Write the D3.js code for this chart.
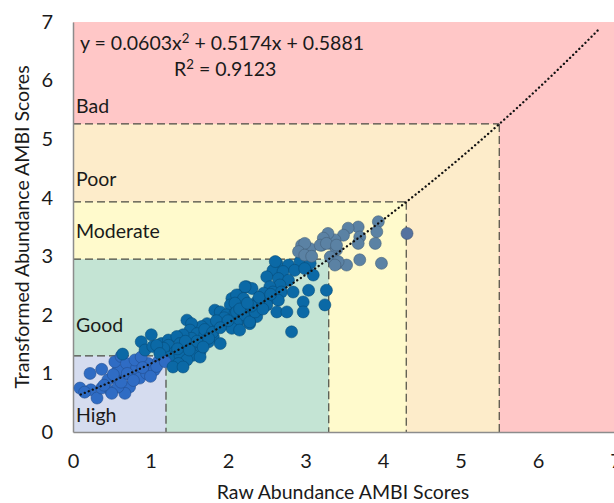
<!DOCTYPE html>
<html>
<head>
<meta charset="utf-8">
<script src="https://cdn.jsdelivr.net/npm/d3@7"></script>
<style>
  html, body { margin: 0; padding: 0; background: #fff; }
  svg { display: block; }
  text { font-family: Lato, "Liberation Sans", sans-serif; fill: #1a1a1a; }
</style>
</head>
<body>
<svg id="chart" width="614" height="503"></svg>
<script>
// Station AMBI scores: raw abundance vs transformed abundance
const rawScores = [
  0.09,0.22,0.37,0.23,0.31,0.37,0.49,0.45,0.56,0.58,0.54,0.62,0.69,0.75,0.73,0.67,0.82,0.86,0.95,0.97,
  1.05,1.10,1.16,0.80,0.88,0.58,0.50,0.15,0.40,0.62,0.70,0.90,1.00,0.78,1.08,0.52,
  1.01,0.88,0.93,1.03,1.14,1.23,1.27,0.64,
  2.24,2.15,2.31,2.05,2.13,2.03,2.24,2.37,1.83,1.90,1.98,2.09,2.18,2.28,2.37,2.28,2.13,2.07,1.96,1.87,
  1.79,1.73,1.66,1.47,1.53,1.51,1.60,1.70,1.81,1.90,1.75,1.64,1.53,1.42,1.34,1.38,1.47,1.55,1.64,1.55,
  1.64,1.23,1.17,1.32,1.25,1.38,1.47,1.36,1.08,1.12,1.19,1.29,1.42,
  2.95,3.06,3.21,3.32,3.40,3.36,3.42,
  2.63,2.78,2.93,3.06,2.58,2.71,2.86,2.99,3.10,2.50,2.65,2.78,2.67,2.54,2.46,2.58,2.69,2.84,3.04,3.27,
  2.22,2.54,2.65,2.50,2.39,2.97,3.25,2.63,2.76,2.97,2.82,2.11,2.20,2.09,2.11,2.20,2.28,2.11,2.05,2.15,
  2.35,2.61,
  4.31,3.94,3.92,3.90,3.98,3.70,3.53,3.68,3.55,3.70,3.68,3.49,3.38,3.29,3.23,3.19,3.27,3.40,2.99,2.91,
  2.99,3.32,3.42,3.38,3.08,
  2.40,2.45,2.55,2.30,1.95,1.85,1.70,1.60,1.80,2.00,1.45,1.75,1.90,2.15,2.25,1.35,1.50,1.68
];
const transformedScores = [
  0.75,1.00,1.07,0.72,0.58,0.75,0.69,0.89,0.92,1.06,1.20,1.29,1.17,0.97,0.77,0.66,1.09,0.92,1.00,1.17,
  1.06,1.20,1.23,1.23,1.28,0.77,0.66,0.68,0.80,0.85,1.00,1.10,0.95,0.88,1.12,0.98,
  1.66,1.54,1.40,1.46,1.51,1.57,1.40,1.33,
  2.48,2.34,2.45,2.28,2.25,2.17,2.14,2.22,2.08,2.05,2.00,2.03,1.97,2.03,1.97,1.85,1.88,1.80,1.85,1.80,
  1.74,1.85,1.80,1.91,1.85,1.74,1.68,1.66,1.63,1.51,1.54,1.51,1.60,1.66,1.63,1.51,1.46,1.43,1.37,1.31,
  1.28,1.48,1.43,1.37,1.28,1.31,1.23,1.17,1.48,1.34,1.20,1.11,1.11,
  3.19,3.13,3.19,3.22,3.11,2.94,2.88,
  2.88,2.85,2.91,2.88,2.76,2.74,2.76,2.79,2.68,2.65,2.62,2.59,2.51,2.48,2.37,2.39,2.39,2.39,2.42,2.42,
  2.48,2.28,2.25,2.17,2.20,2.22,2.17,2.05,2.05,2.05,1.71,2.34,2.28,2.20,2.05,2.00,1.88,1.86,1.77,1.74,
  2.05,2.91,
  3.39,3.59,3.42,3.22,2.88,2.94,2.85,3.50,3.48,3.33,3.22,3.36,3.28,3.39,3.31,3.19,3.22,3.19,3.22,3.08,
  3.02,2.99,2.91,2.85,3.00,
  2.30,2.10,2.35,2.15,1.95,1.90,1.75,1.55,1.70,1.90,1.55,1.60,1.78,2.10,2.20,1.42,1.40,1.45
];

// Status classes and their upper limits on each scale
const categories = ["High", "Good", "Moderate", "Poor", "Bad"];
const rawBreaks = [1.2, 3.3, 4.3, 5.5];
const transformedBreaks = [1.3, 2.95, 3.93, 5.26];
const bandColors = ["#d5dcef", "#c4e4d4", "#fffacc", "#fdecca", "#ffc7c7"];
const pointColors = ["#2f6cc4", "#0b69a6", "#5b82a4", "#55729f"];

// Quadratic fit: y = a x^2 + b x + c
const fitCoefficients = [0.0603, 0.5174, 0.5881];
const fitR2 = 0.9123;
const fitRange = [0.1, 6.8];

const xTicks = [0, 1, 2, 3, 4, 5, 6, 7];
const yTicks = [0, 1, 2, 3, 4, 5, 6, 7];

const svg = d3.select("#chart");
const plot = { left: 73, right: 615.5, top: 22, bottom: 432 };
const labelSize = 19.5;

const x = d3.scaleLinear().domain([0, 7]).range([plot.left, plot.right]);
const y = d3.scaleLinear().domain([0, 7]).range([plot.bottom, plot.top]);

// Nested status bands, largest first
const bands = svg.append("g");
bands.append("rect")
  .attr("x", x(0)).attr("y", y(7))
  .attr("width", x(7) - x(0)).attr("height", y(0) - y(7))
  .attr("fill", bandColors[4]);
for (let i = rawBreaks.length - 1; i >= 0; i--) {
  bands.append("rect")
    .attr("x", x(0)).attr("y", y(transformedBreaks[i]))
    .attr("width", x(rawBreaks[i]) - x(0))
    .attr("height", y(0) - y(transformedBreaks[i]))
    .attr("fill", bandColors[i]);
}

// Dashed class boundaries
const dash = svg.append("g")
  .attr("stroke", "#4a4a42").attr("stroke-width", 1.2)
  .attr("stroke-dasharray", "8,4").attr("fill", "none");
rawBreaks.forEach((rb, i) => {
  dash.append("line")
    .attr("x1", x(0)).attr("x2", x(rb))
    .attr("y1", y(transformedBreaks[i])).attr("y2", y(transformedBreaks[i]));
  dash.append("line")
    .attr("x1", x(rb)).attr("x2", x(rb))
    .attr("y1", y(transformedBreaks[i])).attr("y2", y(0));
});

// Class labels
const labelAt = { High: 0.29, Good: 1.83, Moderate: 3.43, Poor: 4.32, Bad: 5.56 };
svg.append("g").selectAll("text")
  .data(categories).join("text")
  .attr("x", x(0) + 3)
  .attr("y", d => y(labelAt[d]))
  .attr("dy", "0.35em")
  .attr("font-size", labelSize)
  .text(d => d);

// Axes
const xAxis = svg.append("g").attr("transform", `translate(0,${plot.bottom})`)
  .call(d3.axisBottom(x).tickValues(xTicks).tickSize(0).tickPadding(22).tickFormat(d3.format("d")));
const yAxis = svg.append("g").attr("transform", `translate(${plot.left},0)`)
  .call(d3.axisLeft(y).tickValues(yTicks).tickSize(0).tickPadding(20).tickFormat(d3.format("d")));
[xAxis, yAxis].forEach(ax => {
  ax.select(".domain").attr("stroke", "#8c8c8c").attr("stroke-width", 1.5);
  ax.selectAll("text").attr("font-size", 20).attr("fill", "#1a1a1a")
    .attr("font-family", "Lato, sans-serif");
});

// Points, coloured by the worse of the two classes
function classOf(v, breaks) {
  let k = 0;
  while (k < breaks.length && v > breaks[k]) k++;
  return k;
}
const samples = rawScores.map((r, i) => ({ raw: r, t: transformedScores[i] }));
samples.forEach(s => {
  s.cls = Math.min(Math.max(classOf(s.raw, rawBreaks), classOf(s.t, transformedBreaks)), pointColors.length - 1);
});
svg.append("g").selectAll("circle")
  .data(samples).join("circle")
  .attr("cx", d => x(d.raw))
  .attr("cy", d => y(d.t))
  .attr("r", 6)
  .attr("fill", d => pointColors[d.cls])
  .attr("stroke", d => d3.color(pointColors[d.cls]).darker(0.9))
  .attr("stroke-opacity", 0.7)
  .attr("stroke-width", 0.8);

// Fitted curve (dotted)
const [ca, cb, cc] = fitCoefficients;
const fitX = d3.range(fitRange[0], fitRange[1] + 1e-9, 0.05);
svg.append("path")
  .datum(fitX)
  .attr("fill", "none")
  .attr("stroke", "#111")
  .attr("stroke-width", 2.3)
  .attr("stroke-linecap", "round")
  .attr("stroke-dasharray", "0.1,4.2")
  .attr("d", d3.line().x(v => x(v)).y(v => y(ca * v * v + cb * v + cc)));

// Equation and fit statistic, with true superscripts
function withSup(sel, parts) {
  parts.forEach(p => {
    const t = sel.append("tspan").text(p.s);
    if (p.sup) t.attr("font-size", "68%").attr("dy", "-0.5em");
    else if (p.after) t.attr("dy", "0.34em");
  });
}
const eq = svg.append("text")
  .attr("x", 80).attr("y", 50)
  .attr("font-size", labelSize);
withSup(eq, [
  { s: "y = " + ca + "x" },
  { s: "2", sup: true },
  { s: " + " + cb + "x + " + cc, after: true }
]);
const r2 = svg.append("text")
  .attr("x", 174).attr("y", 76)
  .attr("font-size", labelSize);
withSup(r2, [
  { s: "R" },
  { s: "2", sup: true },
  { s: " = " + fitR2, after: true }
]);

// Axis titles
svg.append("text")
  .attr("x", 343).attr("y", 492).attr("dy", "0.35em")
  .attr("text-anchor", "middle").attr("font-size", labelSize)
  .text("Raw Abundance AMBI Scores");
svg.append("text")
  .attr("transform", "translate(22,227) rotate(-90)")
  .attr("dy", "0.35em")
  .attr("text-anchor", "middle").attr("font-size", labelSize)
  .text("Transformed Abundance AMBI Scores");
</script>
</body>
</html>
